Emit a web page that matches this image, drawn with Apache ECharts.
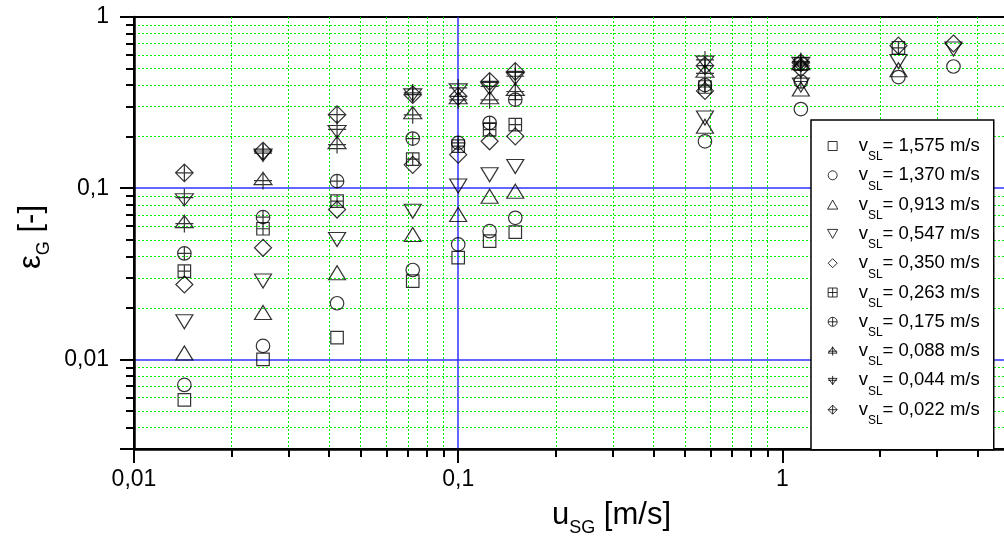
<!DOCTYPE html>
<html>
<head>
<meta charset="utf-8">
<script src="https://cdn.jsdelivr.net/npm/echarts@6/dist/echarts.min.js"></script>
<style>
html, body { margin: 0; padding: 0; background: #fff; }
#chart { width: 1004px; height: 536px; }
</style>
</head>
<body>
<div id="chart"></div>
<script>
const FONT = '"Liberation Sans", Arial, Helvetica, sans-serif';

// superficial gas velocity u_SG [m/s], one entry per measured column
const gasVelocity = [0.0143, 0.025, 0.0423, 0.0724, 0.1, 0.125, 0.15, 0.577, 1.14, 2.28, 3.37];

// gas holdup eps_G [-] for each liquid velocity v_SL
const eps1575 = [0.0058, 0.0100, 0.0134, 0.0287, 0.0393, 0.0491, 0.0554, null, null, null, null];
const eps1370 = [0.0071, 0.0120, 0.0213, 0.0333, 0.0470, 0.0561, 0.0672, 0.188, 0.290, 0.446, 0.514];
const eps0913 = [0.0109, 0.0188, 0.0321, 0.0537, 0.0702, 0.0898, 0.096, 0.230, 0.38, 0.492, null];
const eps0547 = [0.0166, 0.0287, 0.0502, 0.0734, 0.103, 0.120, 0.134, 0.257, 0.40, 0.55, 0.65];
const eps0350 = [0.0274, 0.0449, 0.0751, 0.137, 0.157, 0.188, 0.201, 0.37, 0.50, 0.68, 0.70];
const eps0263 = [0.0328, 0.058, 0.084, 0.148, 0.176, 0.220, 0.235, 0.39, 0.53, 0.66, null];
const eps0175 = [0.0416, 0.0678, 0.110, 0.195, 0.184, 0.241, 0.329, 0.40, 0.42, null, null];
const eps0088 = [0.0622, 0.111, 0.180, 0.269, 0.329, 0.329, 0.368, 0.47, 0.52, null, null];
const eps0044 = [0.0879, 0.160, 0.220, 0.360, 0.385, 0.393, 0.450, 0.56, 0.55, null, null];
const eps0022 = [0.123, 0.165, 0.269, 0.352, 0.344, 0.421, 0.481, 0.52, 0.54, null, null];

const liquidLabels = ['1,575 m/s', '1,370 m/s', '0,913 m/s', '0,547 m/s', '0,350 m/s',
  '0,263 m/s', '0,175 m/s', '0,088 m/s', '0,044 m/s', '0,022 m/s'];

const xMajorTicks = [0.01, 0.1, 1];
const xMinorTicks = [0.02, 0.03, 0.04, 0.05, 0.06, 0.07, 0.08, 0.09,
  0.2, 0.3, 0.4, 0.5, 0.6, 0.7, 0.8, 0.9, 2, 3, 4];
const yMajorTicks = [0.003, 0.01, 0.1, 1];
const yLabelTicks = [0.01, 0.1, 1];
const yMinorTicks = [0.004, 0.005, 0.006, 0.007, 0.008, 0.009,
  0.02, 0.03, 0.04, 0.05, 0.06, 0.07, 0.08, 0.09,
  0.2, 0.3, 0.4, 0.5, 0.6, 0.7, 0.8, 0.9];

// Origin-like hollow markers
const marks = [
  { symbol: 'path://M0,0H10V10H0Z', size: 12.5 },
  { symbol: 'circle', size: 13.5 },
  { symbol: 'path://M8,0L16,14H0Z', size: [17, 14] },
  { symbol: 'path://M0,0H16L8,14Z', size: [17, 14] },
  { symbol: 'path://M8,0L16,8L8,16L0,8Z', size: 17 },
  { symbol: 'path://M0,0H10V10H0Z M5,0V10 M0,5H10', size: 12.5 },
  { symbol: 'path://M0,5A5,5 0 1 1 10,5A5,5 0 1 1 0,5Z M5,0V10 M0,5H10', size: 13.5 },
  { symbol: 'path://M9,1L18,13.3H0Z M9,0V18.3 M0,9.3H18', size: 18 },
  { symbol: 'path://M0,5H18L9,17.3Z M9,0V18.3 M0,9H18', size: 18 },
  { symbol: 'path://M8,0L16,8L8,16L0,8Z M8,0V16 M0,8H16', size: 17.5 }
];

const seriesValues = [eps1575, eps1370, eps0913, eps0547, eps0350, eps0263, eps0175, eps0088, eps0044, eps0022];

const commaFmt = v => String(v).replace('.', ',');

const chart = echarts.init(document.getElementById('chart'), null, { renderer: 'canvas' });

const series = seriesValues.map((vals, i) => ({
  name: liquidLabels[i],
  type: 'scatter',
  xAxisIndex: 0,
  yAxisIndex: 0,
  symbol: marks[i].symbol,
  symbolSize: marks[i].size,
  itemStyle: { color: 'rgba(0,0,0,0)', borderColor: '#000', borderWidth: 1.2 },
  emphasis: { disabled: true },
  data: gasVelocity.map((x, j) => [x, vals[j]]).filter(p => p[1] != null)
}));

const nameRich = {
  m: { fontSize: 31, lineHeight: 44, fontFamily: FONT, color: '#000' },
  s: { fontSize: 18, lineHeight: 18, verticalAlign: 'bottom', fontFamily: FONT, color: '#000' }
};

chart.setOption({
  animation: false,
  backgroundColor: '#fff',
  grid: {
    left: 134, right: -5, top: 17, bottom: 87,
    show: true, borderColor: '#000', borderWidth: 2, backgroundColor: 'rgba(0,0,0,0)',
    outerBoundsMode: 'none'
  },
  legend: {
    orient: 'vertical',
    left: 811, top: 120,
    padding: [16.5, 14, 23, 16],
    itemGap: 2.8,
    itemWidth: 42,
    itemHeight: 9,
    backgroundColor: '#fff',
    borderColor: '#000',
    borderWidth: 1.5,
    selectedMode: false,
    itemStyle: { color: 'rgba(0,0,0,0)', borderColor: '#000', borderWidth: 1 },
    data: liquidLabels,
    formatter: name => '{v|v}{s|SL}{v|= ' + name + '}',
    textStyle: {
      color: '#000',
      fontFamily: FONT,
      rich: {
        v: { fontSize: 18.5, lineHeight: 34, fontFamily: FONT, color: '#000' },
        s: { fontSize: 12, lineHeight: 12, verticalAlign: 'bottom', fontFamily: FONT, color: '#000' }
      }
    }
  },
  xAxis: [
    {
      type: 'log', min: 0.01, max: 5, position: 'bottom',
      name: '{m|u}{s|SG}{m| [m/s]}',
      nameLocation: 'middle',
      nameGap: 44,
      nameTextStyle: { padding: [0, 0, 0, 80], fontFamily: FONT, rich: nameRich },
      axisLine: { show: true, lineStyle: { color: '#000', width: 2.5 } },
      axisTick: { show: true, customValues: xMajorTicks, length: 14, lineStyle: { color: '#000', width: 2 } },
      axisLabel: { customValues: xMajorTicks, formatter: commaFmt, margin: 19, fontSize: 23, color: '#000', fontFamily: FONT },
      splitLine: { show: true, showMinLine: false, showMaxLine: false, lineStyle: { color: '#3030ff', width: 1.5 } }
    },
    {
      type: 'log', min: 0.01, max: 5, position: 'bottom',
      axisLine: { show: false },
      axisTick: { show: true, customValues: xMinorTicks, length: 8, lineStyle: { color: '#000', width: 2 } },
      axisLabel: { show: false },
      splitLine: { show: true, lineStyle: { color: '#00ee00', width: 1, type: [2, 2] } }
    }
  ],
  yAxis: [
    {
      type: 'log', min: 0.003, max: 1, position: 'left',
      name: '{m|\u03b5}{s|G}{m| [-]}',
      nameLocation: 'middle',
      nameGap: 81,
      nameTextStyle: { padding: [0, 8, 0, 0], fontFamily: FONT, rich: nameRich },
      axisLine: { show: true, lineStyle: { color: '#000', width: 2.5 } },
      axisTick: { show: true, customValues: yMajorTicks, length: 14, lineStyle: { color: '#000', width: 2 } },
      axisLabel: { customValues: yLabelTicks, formatter: commaFmt, margin: 25, fontSize: 23, color: '#000', fontFamily: FONT },
      splitLine: { show: true, showMinLine: false, showMaxLine: false, lineStyle: { color: '#3030ff', width: 1.5 } }
    },
    {
      type: 'log', min: 0.003, max: 1, position: 'left',
      axisLine: { show: false },
      axisTick: { show: true, customValues: yMinorTicks, length: 8, lineStyle: { color: '#000', width: 2 } },
      axisLabel: { show: false },
      splitLine: { show: true, lineStyle: { color: '#00ee00', width: 1, type: [2, 2] } }
    }
  ],
  series
});
</script>
</body>
</html>
